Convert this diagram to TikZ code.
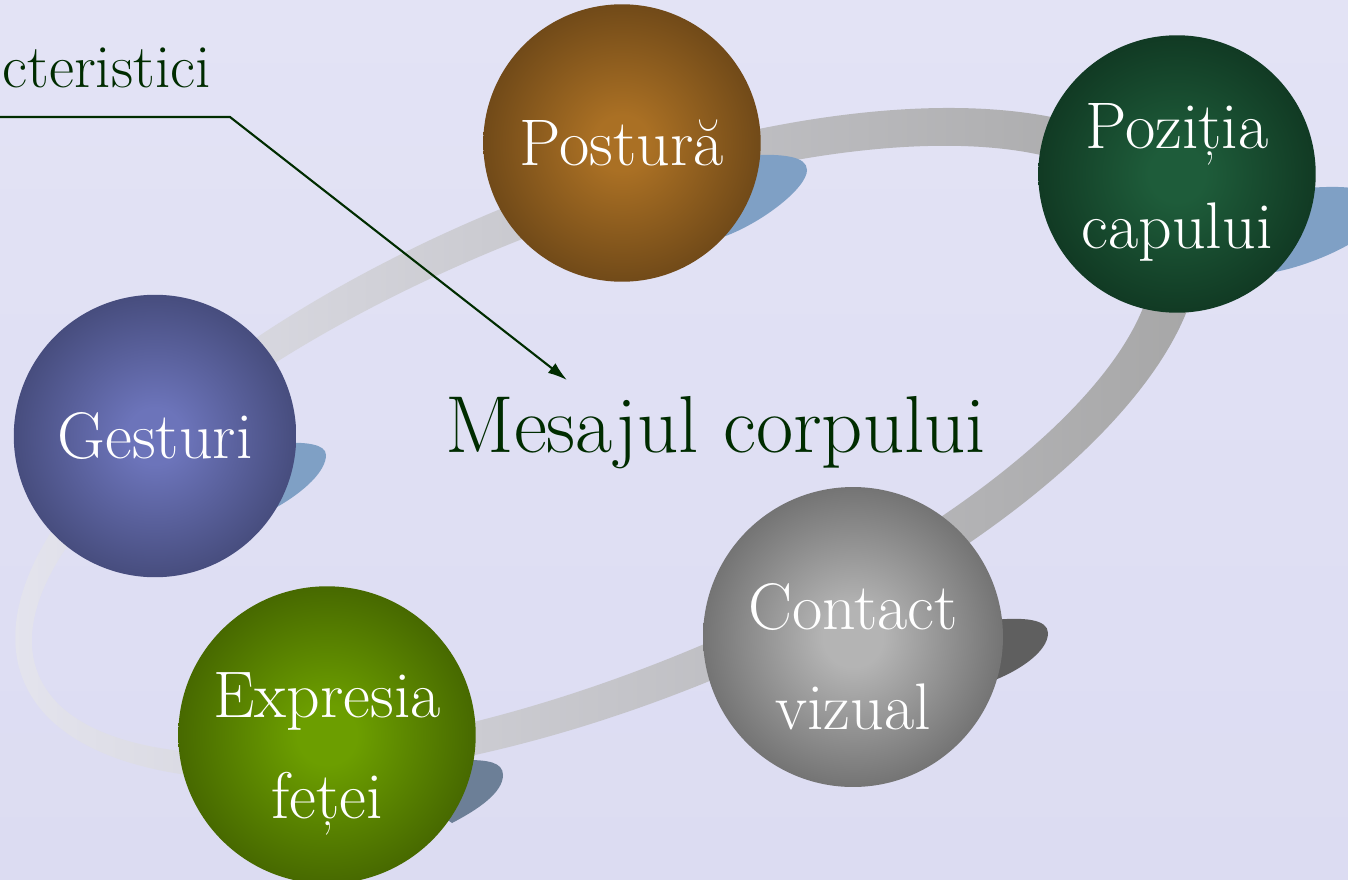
\documentclass[tikz,border=0pt]{standalone}
\usepackage{fontspec}
\usetikzlibrary{arrows.meta}

\definecolor{bgtop}{RGB}{227,227,245}
\definecolor{bgmid}{RGB}{202,202,235}
\definecolor{bgbot}{RGB}{220,220,242}
\definecolor{ringlight}{RGB}{230,230,240}
\definecolor{ringmid}{RGB}{196,196,204}
\definecolor{ringdark}{RGB}{164,164,164}
\definecolor{titlegreen}{RGB}{0,44,0}
\definecolor{shadowblue}{RGB}{127,160,197}
\definecolor{shadowslate}{RGB}{108,127,151}
\definecolor{shadowgrey}{RGB}{95,95,95}
\definecolor{orbbrownin}{RGB}{170,112,36}
\definecolor{orbbrownout}{RGB}{56,36,13}
\definecolor{orbpinein}{RGB}{30,92,58}
\definecolor{orbpineout}{RGB}{4,24,13}
\definecolor{orbbluein}{RGB}{108,116,186}
\definecolor{orbblueout}{RGB}{34,38,66}
\definecolor{orbgreenin}{RGB}{108,158,0}
\definecolor{orbgreenout}{RGB}{34,52,0}
\definecolor{orbgreyin}{RGB}{180,180,180}
\definecolor{orbgreyout}{RGB}{52,52,52}
\colorlet{orbin}{orbbrownin}
\colorlet{orbmid}{orbbrownin!45!orbbrownout}
\colorlet{orbout}{orbbrownout}

\pgfdeclareradialshading[orbin,orbmid,orbout]{orb}{\pgfpoint{0bp}{0bp}}{%
  color(0bp)=(orbin); color(5bp)=(orbin); color(27bp)=(orbmid); color(49bp)=(orbout); color(50bp)=(orbout)}

\begin{document}
\begin{tikzpicture}[x=0.02cm, y=-0.02cm]
    \tikzset{ball/.style = {shape=circle, inner sep=0pt, shading=orb}}
    \tikzset{orbcolors/.code 2 args = {\colorlet{orbin}{#1}\colorlet{orbmid}{#1!45!#2}\colorlet{orbout}{#2}}}
    \tikzset{balltext/.style = {text=white, align=center, inner sep=0pt, font=\fontsize{37.5}{57}\selectfont}}
    \tikzset{title/.style = {text=titlegreen, inner sep=0pt}}
    \tikzset{pointer/.style = {draw=titlegreen, line width=1.2pt, -{Latex[length=11pt,width=7pt]}}}

    % background
    \useasboundingbox (0,0) rectangle (1348,879);
    \shade[top color=bgtop, middle color=bgmid, bottom color=bgbot] (0,0) rectangle (1348,879);

    % ring
    \begin{scope}[shift={(600,447)}, rotate=22]
        \shade[even odd rule, left color=ringlight, middle color=ringmid, right color=ringdark]
            (8,0) ellipse [x radius=630, y radius=258]
            (-8,0) ellipse [x radius=598, y radius=222];
    \end{scope}

    % shadows
    \fill[shadowblue, shift={(622,143)}] (0,0) -- (130,12) .. controls (160,11) and (185,13) .. (185,27)
        .. controls (185,45) and (140,80) .. (101,94) -- cycle;
    \fill[shadowblue, shift={(1177,174)}] (0,0) -- (130,14) .. controls (170,11) and (205,13) .. (205,36)
        .. controls (205,60) and (140,90) .. (98,98) -- cycle;
    \fill[shadowblue, shift={(155,436)}] (0,0) -- (130,7) .. controls (150,6) and (171,8) .. (171,19)
        .. controls (171,35) and (150,55) .. (122,71) -- cycle;
    \fill[shadowslate, shift={(327,735)}] (0,0) -- (140,25) .. controls (160,25) and (176,27) .. (176,40)
        .. controls (176,58) and (150,75) .. (125,88) -- cycle;
    \fill[shadowgrey, shift={(853,637)}] (0,0) -- (140,-17) .. controls (170,-20) and (195,-18) .. (195,-4)
        .. controls (195,15) and (165,35) .. (134,46) -- cycle;

    % spheres
    \node[ball, minimum size=5.55cm, orbcolors={orbbrownin}{orbbrownout}] (postura) at (622,143) {};
    \node[ball, minimum size=5.55cm, orbcolors={orbpinein}{orbpineout}] (pozitia) at (1177,174) {};
    \node[ball, minimum size=5.65cm, orbcolors={orbbluein}{orbblueout}] (gesturi) at (155,436) {};
    \node[ball, minimum size=5.95cm, orbcolors={orbgreenin}{orbgreenout}] (expresia) at (327,735) {};
    \node[ball, minimum size=6.0cm, orbcolors={orbgreyin}{orbgreyout}] (contact) at (853,637) {};

    % labels
    \node[balltext] (postura-txt) at (postura) {Postură};
    \node[balltext, yshift=-0.16cm] (pozitia-txt) at (pozitia) {Poziția\\capului};
    \node[balltext] (gesturi-txt) at (gesturi) {Gesturi};
    \node[balltext, yshift=-0.38cm] (expresia-txt) at (expresia) {Expresia\\feței};
    \node[balltext, yshift=-0.4cm] (contact-txt) at (contact) {Contact\\vizual};

    \node[title, anchor=base west, font=\fontsize{46}{54}\selectfont] (msg) at (445,452) {Mesajul corpului};
    \node[title, anchor=base west, font=\fontsize{35}{42}\selectfont] (caract) at (2,87) {cteristici};

    % pointer
    \coordinate (ulstart) at (0,117);
    \coordinate (ulbend) at (230,117);
    \draw[pointer] (ulstart) -- (ulbend) -- ([xshift=2.44cm, yshift=1.44cm]msg.base west);
\end{tikzpicture}
\end{document}
